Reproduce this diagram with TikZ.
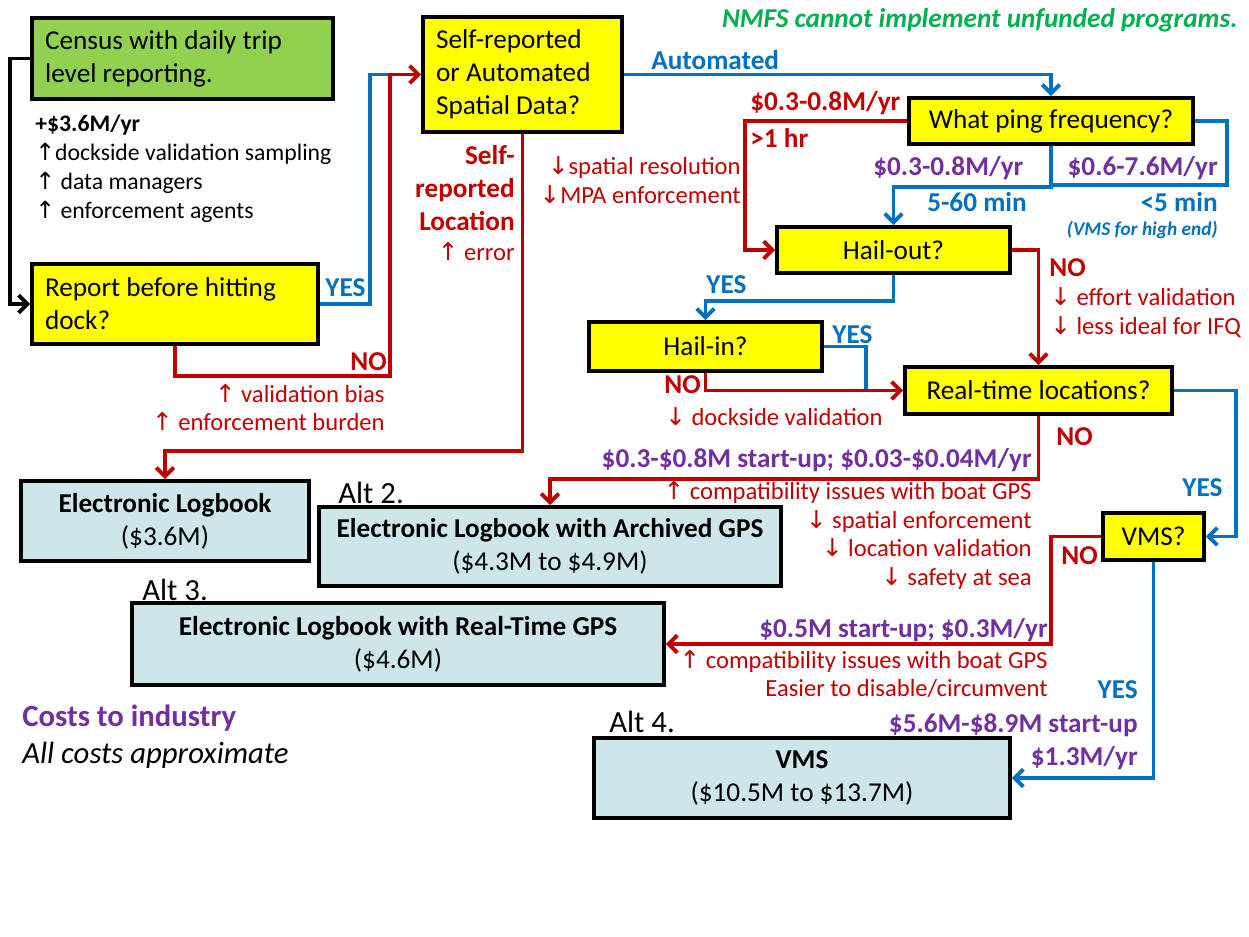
\documentclass[tikz,border=0pt]{standalone}
\usepackage{fontspec}
\setmainfont{Carlito}
\newfontfamily\arrowfont{DejaVu Sans}
\usetikzlibrary{arrows.meta}

\definecolor{qyellow}{RGB}{255,255,0}
\definecolor{censusgreen}{RGB}{146,208,80}
\definecolor{altblue}{RGB}{205,230,234}
\definecolor{linered}{RGB}{192,0,0}
\definecolor{lineblue}{RGB}{0,112,192}
\definecolor{costpurple}{RGB}{112,48,160}
\definecolor{notegreen}{RGB}{0,176,80}

\newcommand{\uarr}{{\arrowfont\char"2191}}
\newcommand{\darr}{{\arrowfont\char"2193}}

\begin{document}
\begin{tikzpicture}[x=0.02cm, y=-0.02cm,
  box/.style={draw=black, line width=2.2pt, inner sep=0pt, align=center,
    font=\fontsize{15.5}{18.7}\selectfont},
  question/.style={box, fill=qyellow},
  outcome/.style={box, fill=altblue},
  lab/.style={inner sep=0pt, font=\fontsize{14}{16.4}\selectfont},
  boldlab/.style={inner sep=0pt, font=\fontsize{15.5}{18.7}\selectfont\bfseries},
  redline/.style={draw=linered, line width=2.2pt},
  blueline/.style={draw=lineblue, line width=2.2pt},
  arrowed/.style={-{Straight Barb[length=5pt,width=10pt]}}
]
  \useasboundingbox (0,0) rectangle (1249,937);

  % decision boxes
  \node[question, fill=censusgreen, minimum width=6.02cm, minimum height=1.62cm,
    text width=5.5cm, align=flush left] (census) at (182.5,58.5) {Census with daily trip\\level reporting.};
  \node[question, minimum width=5.72cm, minimum height=1.6cm,
    text width=5.2cm, align=flush left] (report) at (175,304) {Report before hitting\\dock?};
  \node[question, minimum width=3.98cm, minimum height=2.3cm,
    text width=3.46cm, align=flush left] (selfq) at (522.5,74.5) {Self-reported\\or Automated\\Spatial Data?};
  \node[question, minimum width=5.68cm, minimum height=0.92cm] (ping) at (1051,121) {What ping frequency?};
  \node[question, minimum width=4.66cm, minimum height=0.92cm] (hailout) at (893.5,250) {Hail-out?};
  \node[question, minimum width=4.66cm, minimum height=0.98cm] (hailin) at (705.5,346.5) {Hail-in?};
  \node[question, minimum width=5.34cm, minimum height=0.94cm] (realtime) at (1038.5,390.5) {Real-time locations?};
  \node[question, minimum width=2.02cm, minimum height=0.94cm] (vmsq) at (1153.5,536.5) {VMS?};

  % alternatives
  \node[outcome, minimum width=5.76cm, minimum height=1.6cm] (logbook) at (165,521)
    {\textbf{Electronic Logbook}\\(\$3.6M)};
  \node[outcome, minimum width=9.24cm, minimum height=1.58cm] (archived) at (550,546.5)
    {\textbf{Electronic Logbook with Archived GPS}\\(\$4.3M to \$4.9M)};
  \node[outcome, minimum width=10.64cm, minimum height=1.64cm] (realgps) at (398,644)
    {\textbf{Electronic Logbook with Real-Time GPS}\\(\$4.6M)};
  \node[outcome, minimum width=8.32cm, minimum height=1.6cm] (vms) at (802,778)
    {\textbf{VMS}\\(\$10.5M to \$13.7M)};
  \node[inner sep=0pt, font=\fontsize{17.5}{21}\selectfont, anchor=west] (alt2) at (338,493) {Alt 2.};
  \node[inner sep=0pt, font=\fontsize{17.5}{21}\selectfont, anchor=west] (alt3) at (142,590) {Alt 3.};
  \node[inner sep=0pt, font=\fontsize{17.5}{21}\selectfont, anchor=west] (alt4) at (609,722) {Alt 4.};

  % connectors
  \draw[line width=2.2pt, arrowed] (census.west) -- ++(-20,0) |- (report.west);
  \coordinate (redup) at (390,376);
  \coordinate (yesup) at (370,304);
  \draw[blueline] (report.east) -- (yesup) |- (redup |- selfq.west);
  \draw[redline, arrowed] (report.south) |- (redup) |- (selfq.west);
  \coordinate (selfturn) at (165,451);
  \draw[redline, arrowed] (selfq.south) |- (selfturn) -- (logbook.north);
  \draw[blueline, arrowed] (selfq.east) -| (ping.north);
  \draw[redline, arrowed] (ping.west) -- ++(-162,0) |- (hailout.west);
  \draw[blueline, arrowed] (ping.south) -- ++(0,41) -| (hailout.north);
  \draw[blueline] (ping.east) -- ++(32,0) -- ++(0,64) -- ++(-174,0);
  \draw[blueline, arrowed] (hailout.south) -- ++(0,26) -| (hailin.north);
  \draw[redline, arrowed] (hailout.east) -| (realtime.north);
  \draw[blueline] (hailin.east) -- ++(42,0) -- ++(0,44);
  \draw[redline, arrowed] (hailin.south) |- (realtime.west);
  \draw[redline, arrowed] (realtime.south) -- ++(0,63) -| (archived.north);
  \draw[blueline, arrowed] (realtime.east) -- ++(62,0) |- (vmsq.east);
  \draw[redline, arrowed] (vmsq.west) -- ++(-50,0) |- (realgps.east);
  \draw[blueline, arrowed] (vmsq.south) |- (vms.east);

  % labels
  \node[boldlab, text=notegreen, anchor=east, font=\fontsize{15.5}{18.7}\selectfont\bfseries\itshape] (note) at (1238,20)
    {NMFS cannot implement unfunded programs.};
  \node[lab, anchor=west, align=left, font=\fontsize{13.5}{16.4}\selectfont] (censuscost) at (35,168.5)
    {\textbf{+\$3.6M/yr}\\\uarr dockside validation\ sampling\\\uarr\ data managers\\\uarr\ enforcement agents};
  \node[boldlab, text=lineblue, anchor=west] (yes1) at (325,288) {YES};
  \node[boldlab, text=linered, anchor=west] (no1) at (350,362) {NO};
  \node[lab, text=linered, anchor=east, align=right] (nocost1) at (385,407.5)
    {\uarr\ validation bias\\\uarr\ enforcement burden};
  \node[boldlab, text=linered, anchor=east, align=right] (selfrep) at (515,188) {Self-\\reported\\Location};
  \node[lab, text=linered, anchor=east] (selferr) at (515,252) {\uarr\ error};
  \node[boldlab, text=lineblue, anchor=west] (auto) at (651,60) {Automated};
  \node[boldlab, text=linered, anchor=west] (hrcost) at (750,103) {\$0.3-0.8M/yr};
  \node[boldlab, text=linered, anchor=west] (hr) at (750,138) {>1 hr};
  \node[lab, text=linered, anchor=east, align=right] (hrnote) at (741,180.5)
    {\darr spatial resolution\\\darr MPA enforcement};
  \node[boldlab, text=costpurple, anchor=west] (mincost) at (873,168) {\$0.3-0.8M/yr};
  \node[boldlab, text=costpurple, anchor=east] (fivecost) at (1218,168) {\$0.6-7.6M/yr};
  \node[boldlab, text=lineblue, anchor=west] (min) at (927,202) {5-60 min};
  \node[boldlab, text=lineblue, anchor=east] (five) at (1218,202) {<5 min};
  \node[inner sep=0pt, text=lineblue, anchor=east, font=\fontsize{11}{13}\selectfont\bfseries\itshape] (vmshigh) at (1218,230)
    {(VMS for high end)};
  \node[boldlab, text=linered, anchor=west] (no2) at (1049,268) {NO};
  \node[lab, text=linered, anchor=west, align=left] (no2note) at (1050,312.5)
    {\darr\ effort validation\\\darr\ less ideal for IFQ};
  \node[boldlab, text=lineblue, anchor=west] (yes2) at (706,285) {YES};
  \node[boldlab, text=lineblue, anchor=west] (yes3) at (832,335) {YES};
  \node[boldlab, text=linered, anchor=west] (no3) at (664,385) {NO};
  \node[lab, text=linered, anchor=west] (no3note) at (665,417) {\darr\ dockside validation};
  \node[boldlab, text=linered, anchor=west] (no4) at (1056,437) {NO};
  \node[boldlab, text=costpurple, anchor=east] (archcost) at (1032,460)
    {\$0.3-\$0.8M start-up; \$0.03-\$0.04M/yr};
  \node[lab, text=linered, anchor=east, align=right] (archnote) at (1032,535.5)
    {\uarr\ compatibility issues with boat GPS\\\darr\ spatial enforcement\\\darr\ location validation\\\darr\ safety at sea};
  \node[boldlab, text=lineblue, anchor=west] (yes4) at (1182,488) {YES};
  \node[boldlab, text=linered, anchor=west] (no5) at (1061,556) {NO};
  \node[boldlab, text=costpurple, anchor=east] (gpscost) at (1048,630) {\$0.5M start-up; \$0.3M/yr};
  \node[lab, text=linered, anchor=east, align=right] (gpsnote) at (1048,674)
    {\uarr\ compatibility issues with boat GPS\\Easier to disable/circumvent};
  \node[boldlab, text=lineblue, anchor=east] (yes5) at (1138,690) {YES};
  \node[boldlab, text=costpurple, anchor=east, align=right] (vmscost) at (1138,741.5)
    {\$5.6M-\$8.9M start-up\\\$1.3M/yr};
  \node[inner sep=0pt, text=costpurple, anchor=west, font=\fontsize{17.5}{21}\selectfont\bfseries] (costs) at (22,718)
    {Costs to industry};
  \node[inner sep=0pt, anchor=west, font=\fontsize{17.5}{21}\selectfont\itshape] (approx) at (22,755)
    {All costs approximate};
\end{tikzpicture}
\end{document}
